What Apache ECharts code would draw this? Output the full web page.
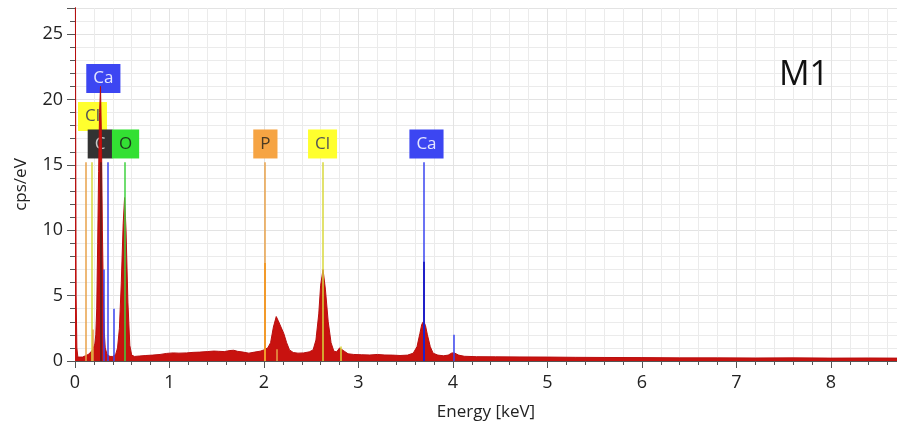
<!DOCTYPE html>
<html>
<head>
<meta charset="utf-8">
<script src="https://cdn.jsdelivr.net/npm/echarts@6/dist/echarts.min.js"></script>
<style>
  html, body { margin: 0; padding: 0; background: #fff; }
  #chart { width: 897px; height: 435px; }
</style>
</head>
<body>
<div id="chart"></div>
<script>
// spectrum (keV / cps per eV)
const energy = [0, 0.006, 0.012, 0.02, 0.03, 0.05, 0.08, 0.11, 0.14, 0.17, 0.19, 0.21, 0.22, 0.23, 0.24, 0.25, 0.26, 0.27, 0.28, 0.29, 0.30,
  0.31, 0.32, 0.34, 0.37, 0.40, 0.43, 0.45, 0.47, 0.49, 0.51, 0.525, 0.54, 0.56, 0.58, 0.60, 0.63, 0.68, 0.75, 0.82, 0.90,
  0.97, 1.04, 1.10, 1.18, 1.25, 1.32, 1.40, 1.47, 1.52, 1.58, 1.64, 1.68, 1.72, 1.78, 1.84, 1.90, 1.96, 2.00, 2.04, 2.07,
  2.10, 2.13, 2.15, 2.18, 2.21, 2.24, 2.27, 2.31, 2.36, 2.42, 2.48, 2.52, 2.55, 2.58, 2.60, 2.625, 2.65, 2.68, 2.71, 2.74,
  2.77, 2.80, 2.82, 2.85, 2.89, 2.95, 3.03, 3.12, 3.20, 3.28, 3.36, 3.44, 3.52, 3.58, 3.62, 3.65, 3.67, 3.69, 3.71, 3.73,
  3.76, 3.79, 3.84, 3.90, 3.95, 3.99, 4.02, 4.06, 4.12, 4.25, 4.45, 4.7, 5.0, 5.3, 5.6, 6.0, 6.4, 6.8, 7.2, 7.6,
  8.0, 8.4, 8.7];
const counts = [40, 40, 5, 1.0, 0.3, 0.2, 0.3, 0.4, 0.5, 0.7, 0.9, 1.3, 2.0, 4.0, 9.0, 14.5, 19.0, 21.0, 17.0, 10.0, 5.0,
  2.2, 1.0, 0.5, 0.35, 0.35, 0.5, 1.0, 2.5, 6.0, 10.5, 12.5, 10.0, 4.5, 1.2, 0.45, 0.35, 0.38, 0.42, 0.45, 0.5,
  0.58, 0.62, 0.6, 0.62, 0.66, 0.68, 0.72, 0.76, 0.74, 0.72, 0.8, 0.82, 0.74, 0.68, 0.6, 0.68, 0.75, 0.85, 1.0, 1.4,
  2.6, 3.4, 3.1, 2.6, 2.1, 1.4, 0.85, 0.65, 0.6, 0.62, 0.7, 0.85, 1.6, 3.6, 5.8, 7.0, 5.5, 3.0, 1.4, 0.75,
  0.7, 1.0, 1.1, 0.75, 0.55, 0.5, 0.48, 0.46, 0.5, 0.46, 0.45, 0.42, 0.45, 0.6, 1.1, 2.1, 2.8, 3.05, 2.7, 2.0,
  1.1, 0.6, 0.45, 0.4, 0.45, 0.62, 0.6, 0.45, 0.36, 0.33, 0.32, 0.31, 0.3, 0.28, 0.27, 0.26, 0.24, 0.24, 0.23, 0.24,
  0.22, 0.23, 0.22];

// element line markers
const lineElem = ['P', 'Cl', 'P', 'C', 'Ca', 'Ca', 'Ca', 'O', 'P', 'P', 'P', 'Cl', 'Cl', 'Ca', 'Ca', 'Ca'];
const lineKeV = [0.116, 0.176, 0.187, 0.277, 0.302, 0.345, 0.41, 0.525, 2.013, 2.013, 2.139, 2.622, 2.815, 3.69, 3.69, 4.013];
const lineTop = [15.2, 15.2, 2.4, 15.2, 7.0, 15.2, 4.0, 15.2, 15.2, 7.5, 0.9, 15.2, 1.1, 15.2, 7.6, 2.0];

// labels at the top of the markers
const labelElem = ['Cl', 'Ca', 'C', 'O', 'P', 'Cl', 'Ca'];
const labelKeV = [0.185, 0.30, 0.265, 0.535, 2.015, 2.62, 3.72];
const labelAt = [18.7, 21.6, 16.6, 16.6, 16.6, 16.6, 16.6];

const xTicks = ['0', '1', '2', '3', '4', '5', '6', '7', '8'];

const elemStyle = {
  Ca: { line: '#3a44f0', box: '#3c46f2', text: '#e4e6ff' },
  Cl: { line: '#d9d83c', box: '#ffff2e', text: '#555' },
  C:  { line: '#5a1e1e', box: '#333333', text: '#c8c8c8' },
  O:  { line: '#3fd23f', box: '#33e033', text: '#1d3a1d' },
  P:  { line: '#e9a24a', box: '#f6a443', text: '#4a3a22' }
};

const font = '"Open Sans", "Noto Sans", sans-serif';

const chart = echarts.init(document.getElementById('chart'));

const markData = lineKeV.map((k, i) => {
  const strong = (i === 9 || i === 14);
  return [
    { coord: [k, 0], lineStyle: { color: strong ? (lineElem[i] === 'P' ? '#f29a2a' : '#2020c8') : elemStyle[lineElem[i]].line, width: strong ? 2 : 1.5, type: 'solid' } },
    { coord: [k, lineTop[i]] }
  ];
});

chart.setOption({
  animation: false,
  backgroundColor: '#fff',
  textStyle: { fontFamily: font },
  grid: { left: 75, right: 0, top: 8, bottom: 74 },
  xAxis: {
    type: 'value',
    min: 0, max: 8.7, interval: 1,
    name: 'Energy [keV]',
    nameLocation: 'middle',
    nameGap: 43,
    nameTextStyle: { fontSize: 17, color: '#222', fontFamily: font },
    axisLine: { show: true, lineStyle: { color: '#555' } },
    axisTick: { show: true, length: 7, lineStyle: { color: '#555' } },
    minorTick: { show: true, splitNumber: 5, length: 4, lineStyle: { color: '#555' } },
    axisLabel: { fontSize: 18, color: '#222', margin: 13, fontFamily: font, showMaxLabel: false,
      formatter: v => (Number.isInteger(v) && v < xTicks.length) ? xTicks[v] : '' },
    splitLine: { show: true, lineStyle: { color: '#e3e3e3' } },
    minorSplitLine: { show: true, lineStyle: { color: '#ebebeb' } }
  },
  yAxis: {
    type: 'value',
    min: 0, max: 27, interval: 5,
    name: 'cps/eV',
    nameLocation: 'middle',
    nameGap: 45,
    nameTextStyle: { fontSize: 17, color: '#222', fontFamily: font },
    axisLine: { show: true, lineStyle: { color: '#555' } },
    axisTick: { show: true, length: 8, lineStyle: { color: '#555' } },
    minorTick: { show: true, splitNumber: 5, length: 5, lineStyle: { color: '#555' } },
    axisLabel: { fontSize: 18, color: '#222', margin: 12, fontFamily: font, showMaxLabel: false },
    splitLine: { show: true, lineStyle: { color: '#e3e3e3' } },
    minorSplitLine: { show: true, lineStyle: { color: '#ebebeb' } }
  },
  graphic: [{
    type: 'text', left: 779, top: 58, z: 10,
    style: { text: 'M1', fontSize: 34, fill: '#111', fontFamily: font }
  }],
  series: [
    {
      type: 'scatter',
      z: 2,
      symbolSize: 0,
      silent: true,
      itemStyle: { opacity: 1 },
      data: labelElem.map((e, i) => ({
        value: [labelKeV[i], labelAt[i]],
        label: {
          show: true, position: 'inside', formatter: e,
          fontSize: 17, lineHeight: 17, fontFamily: font,
          color: elemStyle[e].text, backgroundColor: elemStyle[e].box,
          padding: e === 'C' ? [6, 7] : [6, 7]
        }
      }))
    },
    {
      type: 'line',
      z: 3,
      data: energy.map((x, i) => [x, counts[i]]),
      showSymbol: false,
      clip: true,
      lineStyle: { color: '#b80f0f', width: 1 },
      areaStyle: { color: '#c8120f', opacity: 1 },
      silent: true
    },
    {
      type: 'line',
      z: 4,
      data: [],
      silent: true,
      markLine: {
        silent: true,
        symbol: ['none', 'none'],
        label: { show: false },
        animation: false,
        data: markData
      }
    }
  ]
});
</script>
</body>
</html>
